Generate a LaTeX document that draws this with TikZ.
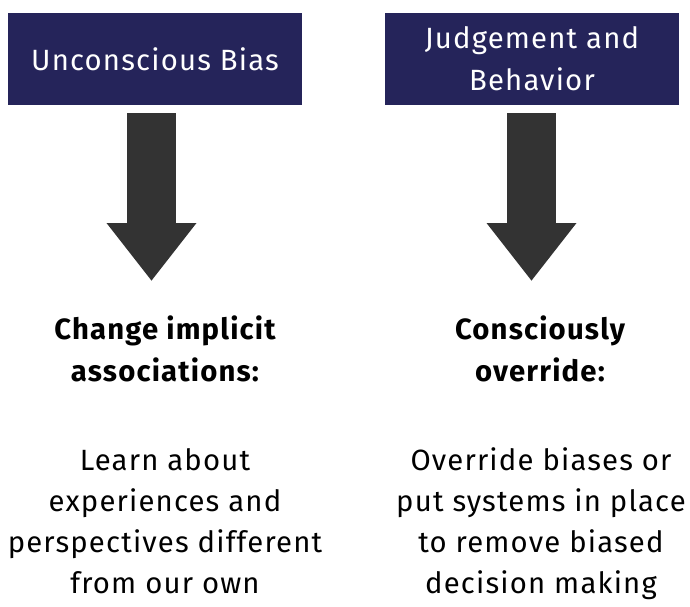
\documentclass[tikz,border=0pt]{standalone}
\usepackage{fontspec}
\setmainfont{Fira Sans}[LetterSpace=4]
\usetikzlibrary{arrows.meta}
\definecolor{navy}{RGB}{37,36,90}
\definecolor{arrowgray}{RGB}{51,51,51}

\begin{document}
\begin{tikzpicture}[x=0.03cm,y=-0.03cm,
  font=\fontsize{25}{35}\selectfont,
  titlebox/.style={fill=navy,text=white,minimum width=8.82cm,minimum height=2.76cm,inner sep=0pt,align=center},
  heading/.style={font=\fontsize{25}{35.8}\selectfont\bfseries,inner sep=0pt,align=center},
  body/.style={inner sep=0pt,align=center},
  fatarrow/.style={arrowgray,line width=1.47cm,-{Triangle[width=2.58cm,length=1.74cm]}}]
\useasboundingbox (0,0) rectangle (690,606);
\node [titlebox] (bias) at (155,59) {Unconscious Bias};
\node [titlebox] (judge) at (532,59) {Judgement and\\[1pt]Behavior};
\coordinate (biastop) at (151.5,113);
\coordinate (biastip) at (151.5,281);
\coordinate (judgetop) at (531.5,113);
\coordinate (judgetip) at (531.5,281);
\draw [fatarrow] (biastop) -- (biastip);
\draw [fatarrow] (judgetop) -- (judgetip);
\node [heading] (change) at (165,349) {Change implicit\\associations:};
\node [heading] (override) at (540,349) {Consciously\\override:};
\node [body] (learn) at (165,521.5) {Learn about\\experiences and\\perspectives different\\from our own};
\node [body] (remove) at (541,524) {Override biases or\\put systems in place\\to remove biased\\decision making};
\end{tikzpicture}
\end{document}
